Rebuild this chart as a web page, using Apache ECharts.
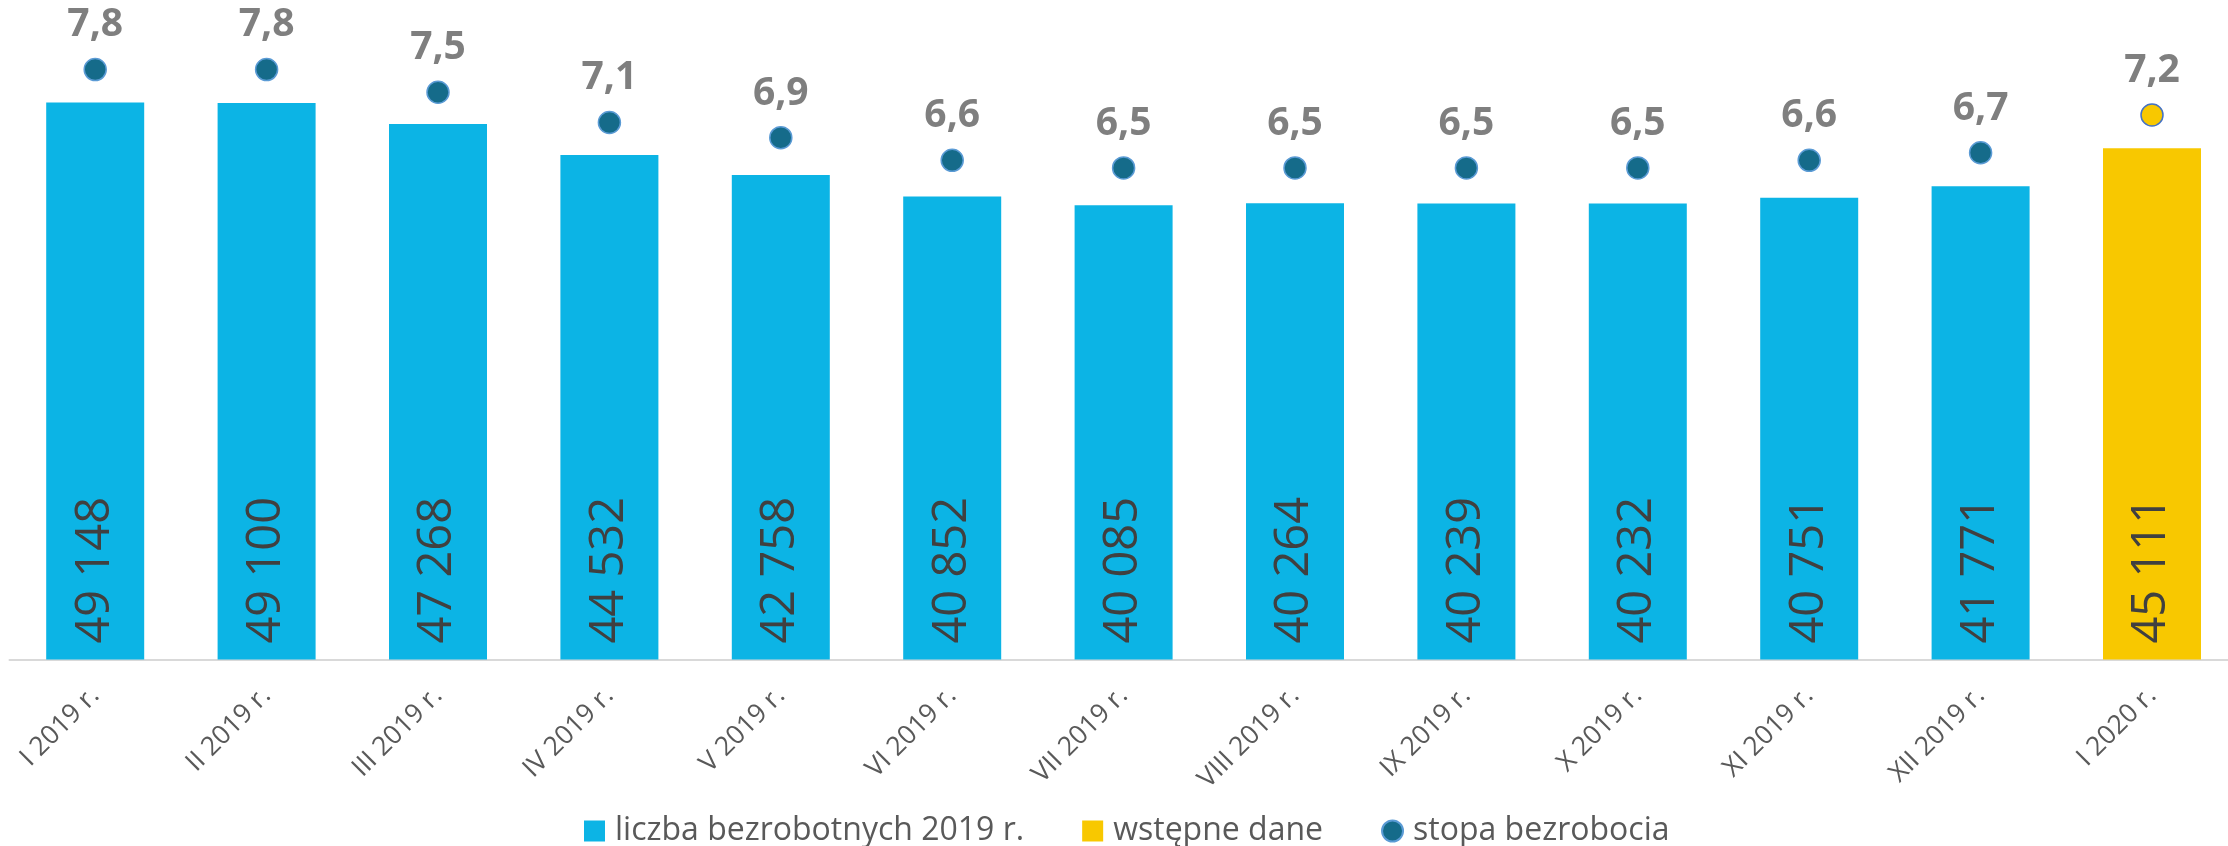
<!DOCTYPE html>
<html><head><meta charset="utf-8">
<script src="https://cdn.jsdelivr.net/npm/echarts@6/dist/echarts.min.js"></script>
<style>html,body{margin:0;padding:0;background:#fff;overflow:hidden}#c{width:2240px;height:846px}</style>
</head><body><div id="c"></div>
<script>
const categories = ['I 2019 r.','II 2019 r.','III 2019 r.','IV 2019 r.','V 2019 r.','VI 2019 r.','VII 2019 r.','VIII 2019 r.','IX 2019 r.','X 2019 r.','XI 2019 r.','XII 2019 r.','I 2020 r.'];
const unemployed2019 = [49148,49100,47268,44532,42758,40852,40085,40264,40239,40232,40751,41771,null];
const preliminary = [null,null,null,null,null,null,null,null,null,null,null,null,45111];
const rate = [7.8,7.8,7.5,7.1,6.9,6.6,6.5,6.5,6.5,6.5,6.6,6.7,7.2];
const seriesNames = ['liczba bezrobotnych 2019 r.','wstępne dane','stopa bezrobocia'];

const FONT = '"Open Sans", sans-serif';
const fmtNum = v => String(v).replace(/\B(?=(\d{3})+(?!\d))/g, ' ');
const fmtRate = v => v.toFixed(1).replace('.', ',');

const barLabel = {
  show: true, rotate: 90, position: 'insideBottom', align: 'left', verticalAlign: 'middle',
  distance: 16, fontSize: 47, color: '#404040', fontFamily: FONT,
  formatter: p => fmtNum(p.value)
};

const chart = echarts.init(document.getElementById('c'), null, {renderer: 'canvas'});
chart.setOption({
  animation: false,
  grid: {left: 9.5, top: 0, right: 2.3, bottom: 186.5, containLabel: false},
  xAxis: {
    type: 'category', data: categories,
    axisLine: {lineStyle: {color: '#d9d9d9', width: 2}},
    axisTick: {show: false},
    axisLabel: {rotate: 45, margin: 32, fontSize: 26.5, color: '#595959', fontFamily: FONT, interval: 0}
  },
  yAxis: [
    {type: 'value', min: 0, max: 58200, show: false, splitLine: {show: false}},
    {type: 'value', min: 0, max: 8.72, show: false, splitLine: {show: false}}
  ],
  legend: {
    left: 579, top: 810, itemWidth: 21, itemHeight: 21, itemGap: 58,
    textStyle: {fontSize: 32, color: '#595959', fontFamily: FONT, padding: [0, 0, 0, 5]},
    data: [
      {name: seriesNames[0], icon: 'rect'},
      {name: seriesNames[1], icon: 'rect'},
      {name: seriesNames[2], icon: 'circle'}
    ]
  },
  series: [
    {name: seriesNames[0], type: 'bar', data: unemployed2019, barWidth: 98, barGap: '-100%',
     itemStyle: {color: '#0CB4E5'}, label: barLabel},
    {name: seriesNames[1], type: 'bar', data: preliminary, barWidth: 98, barGap: '-100%',
     itemStyle: {color: '#F8C800'}, label: barLabel},
    {name: seriesNames[2], type: 'scatter', yAxisIndex: 1, symbol: 'circle', symbolSize: 22,
     data: rate.map((v, i) => i === rate.length - 1
        ? {value: v, itemStyle: {color: '#F8C800', borderColor: '#4472C4', borderWidth: 1.5}}
        : v),
     itemStyle: {color: '#156B8A', borderColor: '#5B9BD5', borderWidth: 1.5, opacity: 1},
     label: {show: true, position: 'top', distance: 13, fontSize: 39, fontWeight: 'bold',
             color: '#7F7F7F', fontFamily: FONT, formatter: p => fmtRate(p.value)}}
  ]
});
</script></body></html>
